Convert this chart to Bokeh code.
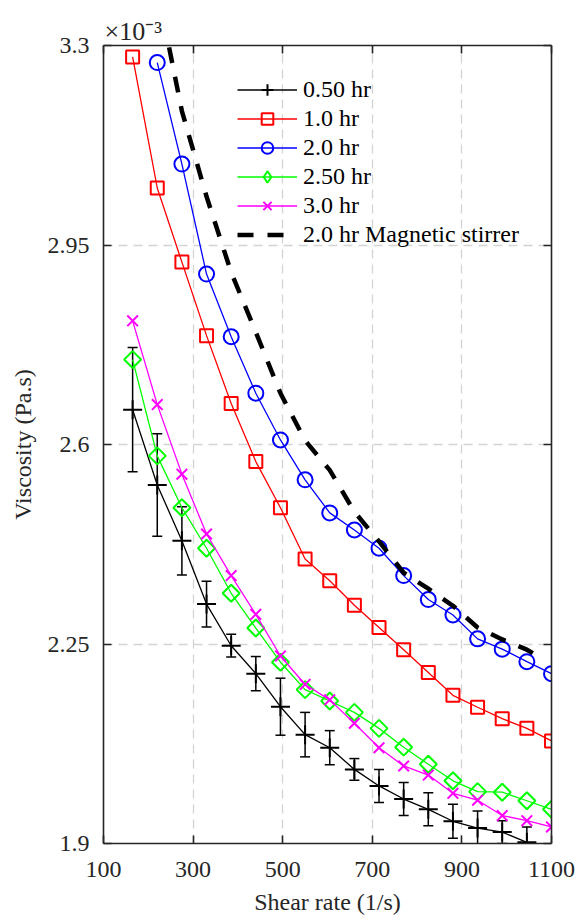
import numpy as np
from bokeh.plotting import figure
from bokeh.models import (Range1d, LinearAxis, FixedTicker, Legend, LegendItem,
                          Whisker, ColumnDataSource, TeeHead)
from bokeh.embed import file_html
from bokeh.resources import INLINE

# ---------------- data (viscosity in units of 1e-3 Pa.s) ----------------
shear_rate = [165, 220, 275, 330, 385, 440, 495, 550, 605, 660, 715, 770,
              825, 880, 935, 990, 1045, 1100]

visc_050 = [2.661, 2.529, 2.431, 2.320, 2.247, 2.198, 2.140, 2.091, 2.068,
            2.030, 2.001, 1.978, 1.960, 1.939, 1.927, 1.920, 1.902]
err_050 = [0.109, 0.090, 0.060, 0.040, 0.020, 0.030, 0.050, 0.039, 0.030,
           0.019, 0.029, 0.029, 0.029, 0.030, 0.030, 0.020, 0.027]

visc_10 = [3.280, 3.050, 2.920, 2.791, 2.672, 2.570, 2.489, 2.399, 2.361,
           2.318, 2.279, 2.240, 2.200, 2.160, 2.139, 2.119, 2.102, 2.080]

shear_rate_20 = shear_rate[1:]
visc_20 = [3.270, 3.092, 2.899, 2.789, 2.690, 2.608, 2.538, 2.480, 2.450,
           2.418, 2.370, 2.328, 2.301, 2.259, 2.241, 2.219, 2.198]

visc_25 = [2.749, 2.580, 2.489, 2.418, 2.339, 2.278, 2.218, 2.170, 2.150,
           2.130, 2.102, 2.069, 2.039, 2.010, 1.991, 1.990, 1.975, 1.960]

visc_30 = [2.817, 2.670, 2.548, 2.443, 2.370, 2.302, 2.229, 2.179, 2.152,
           2.111, 2.068, 2.036, 2.020, 1.988, 1.976, 1.949, 1.940, 1.929]

stirrer_rate = [220, 275, 330, 385, 440, 495, 550, 605, 660, 715, 770, 825,
                880, 935, 990, 1045, 1085]
visc_stirrer = [3.400, 3.185, 3.035, 2.902, 2.797, 2.690, 2.607, 2.555, 2.482,
                2.430, 2.375, 2.347, 2.317, 2.279, 2.258, 2.240, 2.222]

series_labels = ["0.50 hr", "1.0 hr", "2.0 hr", "2.50 hr", "3.0 hr",
                 "2.0 hr Magnetic stirrer"]

x_ticks = [100, 300, 500, 700, 900, 1100]
y_ticks = [1.9, 2.25, 2.6, 2.95, 3.3]
y_tick_labels = ["1.9", "2.25", "2.6", "2.95", "3.3"]
exponent_text = "×10⁻³"

FONT = "Liberation Serif"
AX = "#262626"
FS = "24px"

p = figure(width=582, height=920, output_backend="svg", toolbar_location=None,
           x_range=Range1d(100, 1100), y_range=Range1d(1.9, 3.3),
           min_border_left=103, min_border_right=31, min_border_top=45,
           min_border_bottom=77,
           x_axis_label="Shear rate (1/s)", y_axis_label="Viscosity (Pa.s)")
p.outline_line_color = None
p.background_fill_color = "white"
p.border_fill_color = "white"

# exponent shown as the title, top-left above the frame
p.title.text = exponent_text
p.title.align = "left"
p.title.offset = 1
p.title.standoff = 0
p.title.text_font = FONT
p.title.text_font_size = "26px"
p.title.text_font_style = "normal"
p.title.text_color = AX

# grid
p.xgrid.ticker = FixedTicker(ticks=x_ticks)
p.ygrid.ticker = FixedTicker(ticks=y_ticks)
for g in (p.xgrid, p.ygrid):
    g.grid_line_color = "#d4d4d4"
    g.grid_line_width = 1.3
    g.grid_line_dash = "9 6"

# extra axes for the box
top_ax = LinearAxis()
right_ax = LinearAxis()
p.add_layout(top_ax, "above")
p.add_layout(right_ax, "right")

p.xaxis.ticker = FixedTicker(ticks=x_ticks)
p.yaxis.ticker = FixedTicker(ticks=y_ticks)
p.yaxis.major_label_overrides = {t: s for t, s in zip(y_ticks, y_tick_labels)}

for ax in p.xaxis + p.yaxis:
    ax.axis_line_color = AX
    ax.axis_line_width = 1.6
    ax.major_tick_line_color = AX
    ax.major_tick_line_width = 1.6
    ax.major_tick_in = 8
    ax.major_tick_out = 0
    ax.minor_tick_line_color = None
    ax.major_label_text_font = FONT
    ax.major_label_text_font_size = FS
    ax.major_label_text_color = AX
    ax.axis_label_text_font = FONT
    ax.axis_label_text_font_size = FS
    ax.axis_label_text_font_style = "normal"
    ax.axis_label_text_color = AX

p.below[0].major_label_standoff = 18
p.below[0].axis_label_standoff = 9
p.left[0].major_label_standoff = 14
p.left[0].axis_label_standoff = 9
top_ax.major_label_overrides = {t: "" for t in x_ticks}
right_ax.major_label_overrides = {t: "" for t in y_ticks}
for ax in (top_ax, right_ax):
    ax.major_label_standoff = 0
    ax.major_label_text_font_size = "2px"

# ---------------- series ----------------
x050 = shear_rate[:len(visc_050)]
l050 = p.line(x050, visc_050, line_color="black", line_width=1.3)
err_src = ColumnDataSource(dict(
    x=x050,
    upper=[v + e for v, e in zip(visc_050, err_050)],
    lower=[v - e for v, e in zip(visc_050, err_050)]))
wh = Whisker(source=err_src, base="x", upper="upper", lower="lower",
             dimension="height", line_color="black", line_width=1.5,
             upper_head=TeeHead(size=10, line_color="black", line_width=1.5),
             lower_head=TeeHead(size=10, line_color="black", line_width=1.5))
p.add_layout(wh)
m050 = p.scatter(x050, visc_050, marker="cross", size=19, line_color="black",
                 line_width=2)

l10 = p.line(shear_rate, visc_10, line_color="#ff0000", line_width=1.3)
m10 = p.scatter(shear_rate, visc_10, marker="square", size=13,
                line_color="#ff0000", fill_color=None, line_width=2)

l20 = p.line(shear_rate_20, visc_20, line_color="#0000ff", line_width=1.3)
m20 = p.scatter(shear_rate_20, visc_20, marker="circle", size=15,
                line_color="#0000ff", fill_color=None, line_width=2)

l25 = p.line(shear_rate, visc_25, line_color="#00ff00", line_width=1.3)
m25 = p.scatter(shear_rate, visc_25, marker="square", angle=np.pi / 4, size=12,
                line_color="#00ff00", fill_color=None, line_width=2)
m25_leg = p.scatter(shear_rate, visc_25, marker="diamond", size=18,
                    line_color="#00ff00", fill_color=None, line_width=2,
                    visible=False)

l30 = p.line(shear_rate, visc_30, line_color="#ff00ff", line_width=1.3)
m30 = p.scatter(shear_rate, visc_30, marker="x", size=15,
                line_color="#ff00ff", line_width=2)

lst = p.line(stirrer_rate, visc_stirrer, line_color="black", line_width=4.5,
             line_dash="16 14")

legend = Legend(items=[
    LegendItem(label=series_labels[0], renderers=[l050, m050]),
    LegendItem(label=series_labels[1], renderers=[l10, m10]),
    LegendItem(label=series_labels[2], renderers=[l20, m20]),
    LegendItem(label=series_labels[3], renderers=[l25, m25_leg]),
    LegendItem(label=series_labels[4], renderers=[l30, m30]),
    LegendItem(label=series_labels[5], renderers=[lst]),
], location=(134, 594), orientation="vertical")
legend.border_line_color = None
legend.background_fill_alpha = 0
legend.padding = 0
legend.margin = 0
legend.glyph_width = 60
legend.glyph_height = 29
legend.label_height = 29
legend.spacing = 0
legend.label_standoff = 6
legend.label_text_font = FONT
legend.label_text_font_size = FS
legend.label_text_color = "black"
legend.inactive_fill_alpha = 0
p.add_layout(legend)

open("out.html", "w").write(file_html(p, INLINE))
